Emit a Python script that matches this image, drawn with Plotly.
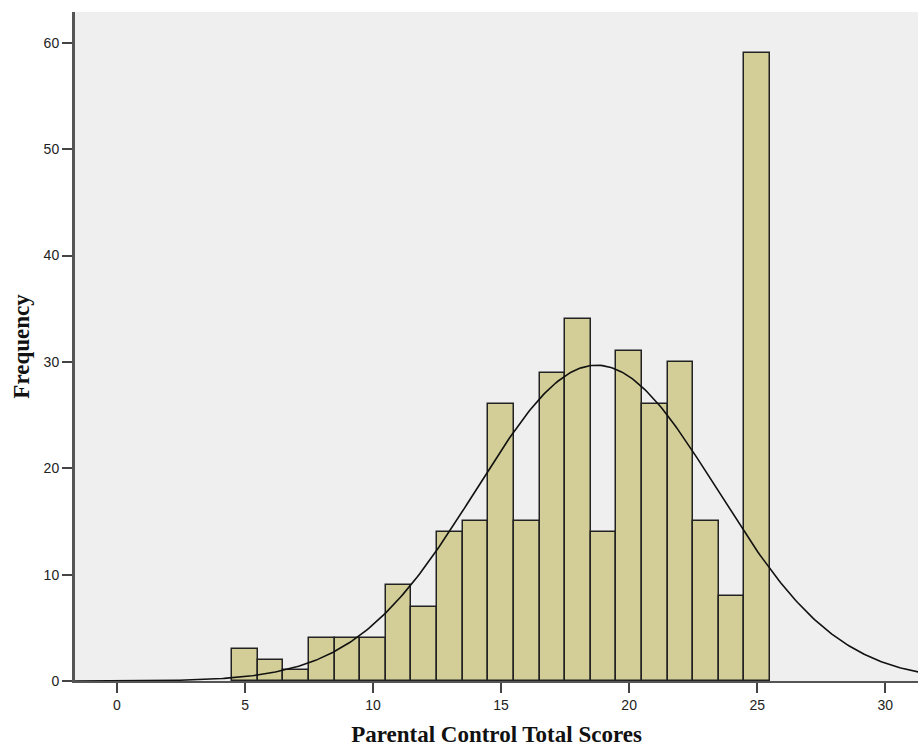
import numpy as np
import plotly.graph_objects as go

scores = [5, 6, 7, 8, 9, 10, 11, 12, 13, 14, 15, 16, 17, 18, 19, 20, 21, 22, 23, 24, 25]
freq = [3, 2, 1, 4, 4, 4, 9, 7, 14, 15, 26, 15, 29, 34, 14, 31, 26, 30, 15, 8, 59]
x_ticks = [0, 5, 10, 15, 20, 25, 30]
y_ticks = [0, 10, 20, 30, 40, 50, 60]

# normal curve fitted to the histogram data
vals = np.repeat(scores, freq)
mu = vals.mean()
sd = vals.std(ddof=1)
n = len(vals)
xc = np.linspace(-1.7, 31.4, 400)
yc = n * 1.0 / (sd * np.sqrt(2 * np.pi)) * np.exp(-0.5 * ((xc - mu) / sd) ** 2)

fig = go.Figure()
fig.add_trace(go.Bar(
    x=scores, y=freq, width=1,
    marker=dict(color="#D3CE97", line=dict(color="#222222", width=1.5)),
    showlegend=False,
))
fig.add_trace(go.Scatter(
    x=xc, y=yc, mode="lines",
    line=dict(color="#111111", width=1.6),
    showlegend=False,
))

title_font = dict(family="Liberation Serif, Times New Roman, serif", size=23,
                  color="#111111", weight="bold")

fig.update_layout(
    width=918, height=751,
    margin=dict(l=75, r=0, t=12, b=70, autoexpand=False),
    paper_bgcolor="white",
    plot_bgcolor="#EFEFEF",
    bargap=0,
    font=dict(family="Liberation Sans, Arial, sans-serif", size=14, color="#222222"),
    xaxis=dict(
        range=[-1.64, 31.28],
        tickvals=x_ticks,
        ticks="outside", ticklen=10, tickwidth=2, tickcolor="#444444",
        showline=True, linecolor="#555555", linewidth=2,
        showgrid=False, zeroline=False, automargin=False,
        title=dict(text="Parental Control Total Scores", font=title_font, standoff=14),
    ),
    yaxis=dict(
        range=[0, 62.9],
        tickvals=y_ticks,
        ticks="outside", ticklen=10, tickwidth=2, tickcolor="#444444",
        showline=True, linecolor="#555555", linewidth=3,
        showgrid=False, zeroline=False, automargin=False,
        title=dict(text="Frequency", font=title_font, standoff=8),
    ),
)

fig.write_html("out.html",
               config={"displayModeBar": False},
               post_script="document.body.style.margin='0';document.body.style.overflow='hidden';")
